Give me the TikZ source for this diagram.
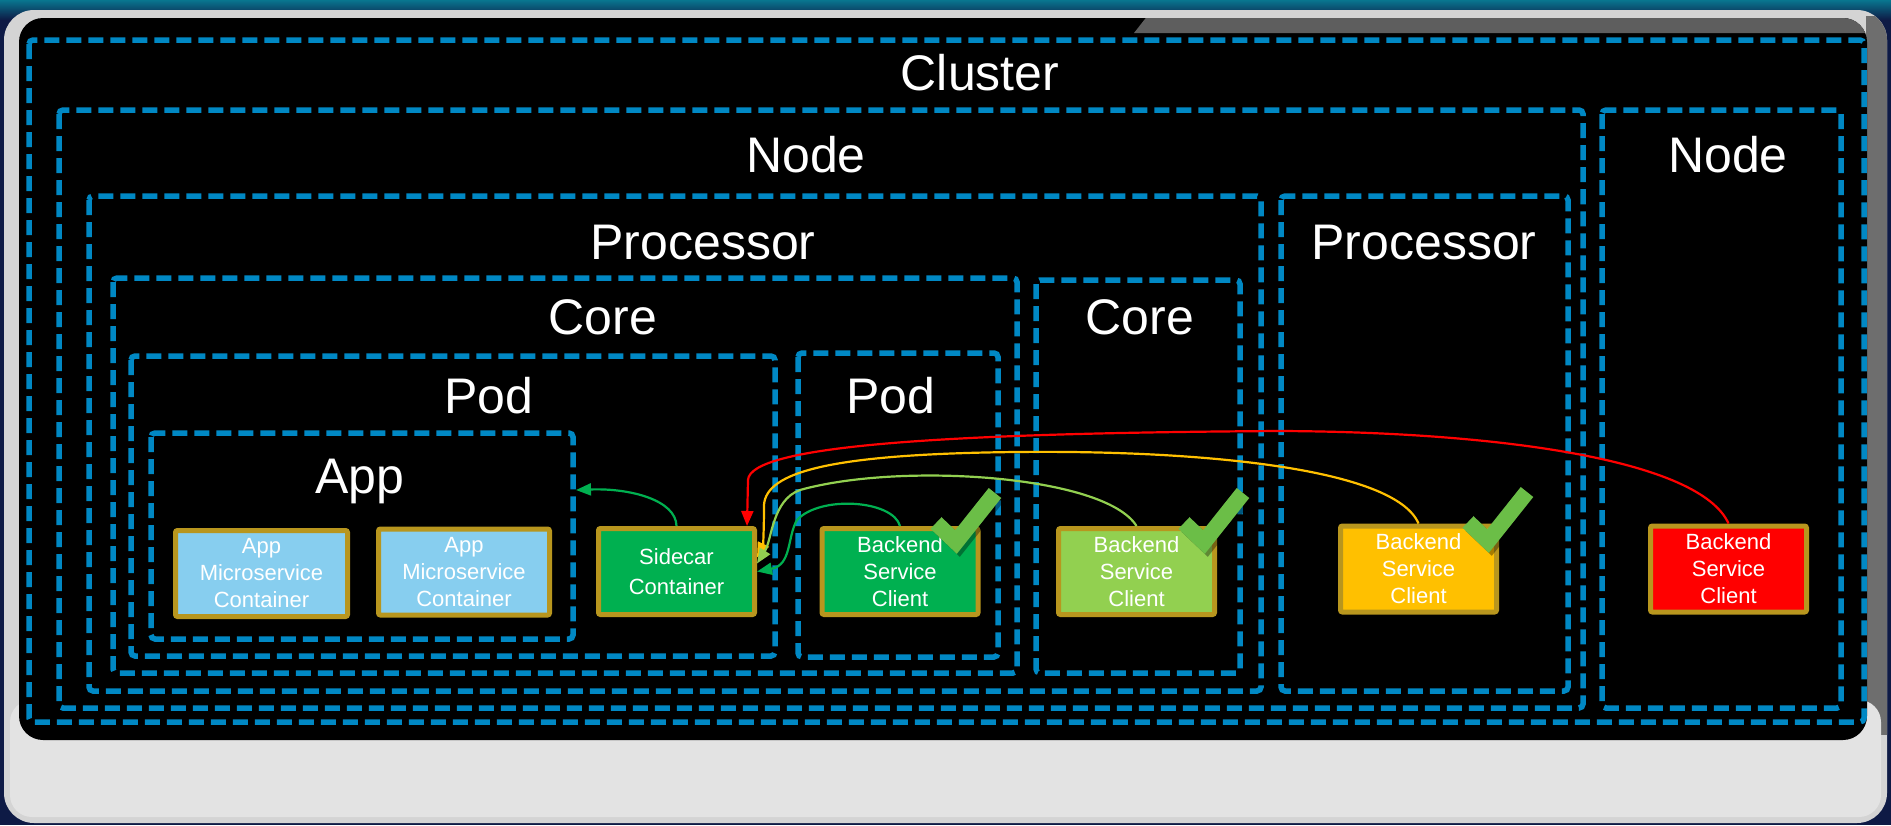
\documentclass[tikz,border=0pt]{standalone}
\usepackage{fontspec}
\setmainfont{Liberation Sans}
\usetikzlibrary{arrows.meta,calc}
\definecolor{dblue}{HTML}{0088C4}
\definecolor{gold}{HTML}{B8961E}
\definecolor{skyb}{HTML}{87CEEF}
\definecolor{dgreen}{HTML}{00B050}
\definecolor{lgreen}{HTML}{92D050}
\definecolor{amber}{HTML}{FFC000}
\definecolor{tickgreen}{HTML}{6BBE47}
\definecolor{navy}{HTML}{0E1A45}
\definecolor{rimc}{HTML}{D4D4D4}
\definecolor{lightp}{HTML}{E3E3E3}
\definecolor{tabgray}{HTML}{5E5E5E}
\definecolor{rightrim}{HTML}{6E6E6E}
\tikzset{
  box/.style={draw=dblue, line width=5.5pt, dash pattern=on 15pt off 7pt, rounded corners=4pt},
  lbl/.style={text=white, font=\fontsize{50}{60}\selectfont, anchor=base, inner sep=0pt},
  svc/.style={draw=gold, line width=5pt, rounded corners=2pt, text=white, align=center,
    font=\fontsize{22}{27}\selectfont, minimum width=156pt, minimum height=86pt, inner sep=0pt},
  conn/.style={line width=2.2pt, -{Triangle[length=15pt,width=12pt]}},
  checkmark/.pic={
    \draw[black, opacity=0.35, line width=16pt, line join=miter] (-17,-16) -- (3,3) -- (42,-46);
    \draw[tickgreen, line width=16pt, line join=miter] (-20,-19) -- (0,0) -- (39,-49);
  }
}
\begin{document}
\begin{tikzpicture}[x=1pt,y=-1pt]
\useasboundingbox (0,0) rectangle (1891,825);
% background and frame
\fill[navy] (0,0) rectangle (1891,825);
\shade[top color=navy!60!cyan, bottom color=navy] (0,0) rectangle (1891,20);
\fill[rimc, rounded corners=30pt] (4,10) rectangle (1887,823);
\begin{scope}
  \clip[rounded corners=30pt] (4,10) rectangle (1887,823);
  \fill[rightrim] (1866,16) rectangle (1891,735);
\end{scope}
\fill[lightp, rounded corners=22pt] (10,700) rectangle (1881,817);
\fill[black, rounded corners=24pt] (19,18) rectangle (1867,740);
\begin{scope}
  \clip[rounded corners=24pt] (19,18) rectangle (1867,740);
  \fill[tabgray] (1152,10) -- (1891,10) -- (1891,33) -- (1134,33) -- cycle;
\end{scope}

% containers
\draw[box] (29,40) rectangle (1864,722);
\draw[box] (59,110) rectangle (1583,708);
\draw[box] (1602,110) rectangle (1841,708);
\draw[box] (89,196) rectangle (1261,691);
\draw[box] (1281,196) rectangle (1568,691);
\draw[box] (113,278) rectangle (1017,673);
\draw[box] (1036,280) rectangle (1240,673);
\draw[box] (131,356) rectangle (775,656);
\draw[box] (798,353) rectangle (998,657);
\draw[box] (151,433) rectangle (573,639);

% labels
\node[lbl] (lcluster) at (980,90) {Cluster};
\node[lbl] (lnode1) at (806,172) {Node};
\node[lbl] (lnode2) at (1728,172) {Node};
\node[lbl] (lproc1) at (703,259) {Processor};
\node[lbl] (lproc2) at (1424,259) {Processor};
\node[lbl] (lcore1) at (603,334) {Core};
\node[lbl] (lcore2) at (1140,334) {Core};
\node[lbl] (lpod1) at (489,413) {Pod};
\node[lbl] (lpod2) at (891,413) {Pod};
\node[lbl] (lapp) at (360,493) {App};

% service boxes
\node[svc, fill=skyb, minimum width=172pt] (am1) at (261.5,573.5) {App\\Microservice\\Container};
\node[svc, fill=skyb, minimum width=171pt] (am2) at (464,572) {App\\Microservice\\Container};
\node[svc, fill=dgreen, font=\fontsize{22}{30}\selectfont] (side) at (676.5,571.5) {Sidecar\\Container};
\node[svc, fill=dgreen] (b1) at (900,571.5) {Backend\\Service\\Client};
\node[svc, fill=lgreen] (b2) at (1136.5,571.5) {Backend\\Service\\Client};
\node[svc, fill=amber] (b3) at (1418.5,569) {Backend\\Service\\Client};
\node[svc, fill=red] (b4) at (1728.5,569) {Backend\\Service\\Client};
\coordinate (appE) at (576,490);

% connectors
\draw[conn, dgreen] (side.north) .. controls (676,500) and (630,488) .. (appE);
\draw[conn, red] (b4.north) .. controls (1700,460) and (1500,432) .. (1280,431)
   .. controls (950,433) and (750,445) .. (748,480) -- ([xshift=-10pt]side.north east);
\draw[conn, amber] (b3.north) .. controls (1395,468) and (1200,450) .. (1016,452)
   .. controls (830,454) and (766,472) .. (764,505)
   .. controls (764,530) and (763,545) .. ([yshift=14pt]side.east);
\draw[conn, lgreen] (b2.north) .. controls (1105,475) and (900,462) .. (800,490)
   .. controls (772,500) and (772,540) .. ([yshift=8pt]side.east);
\draw[conn, dgreen] (b1.north) .. controls (893,500) and (820,495) .. (797,520)
   .. controls (787,537) and (792,565) .. (side.east);

% check marks
\pic at (956,542) {checkmark};
\pic at (1204,542) {checkmark};
\pic at (1488,541) {checkmark};
\end{tikzpicture}
\end{document}
